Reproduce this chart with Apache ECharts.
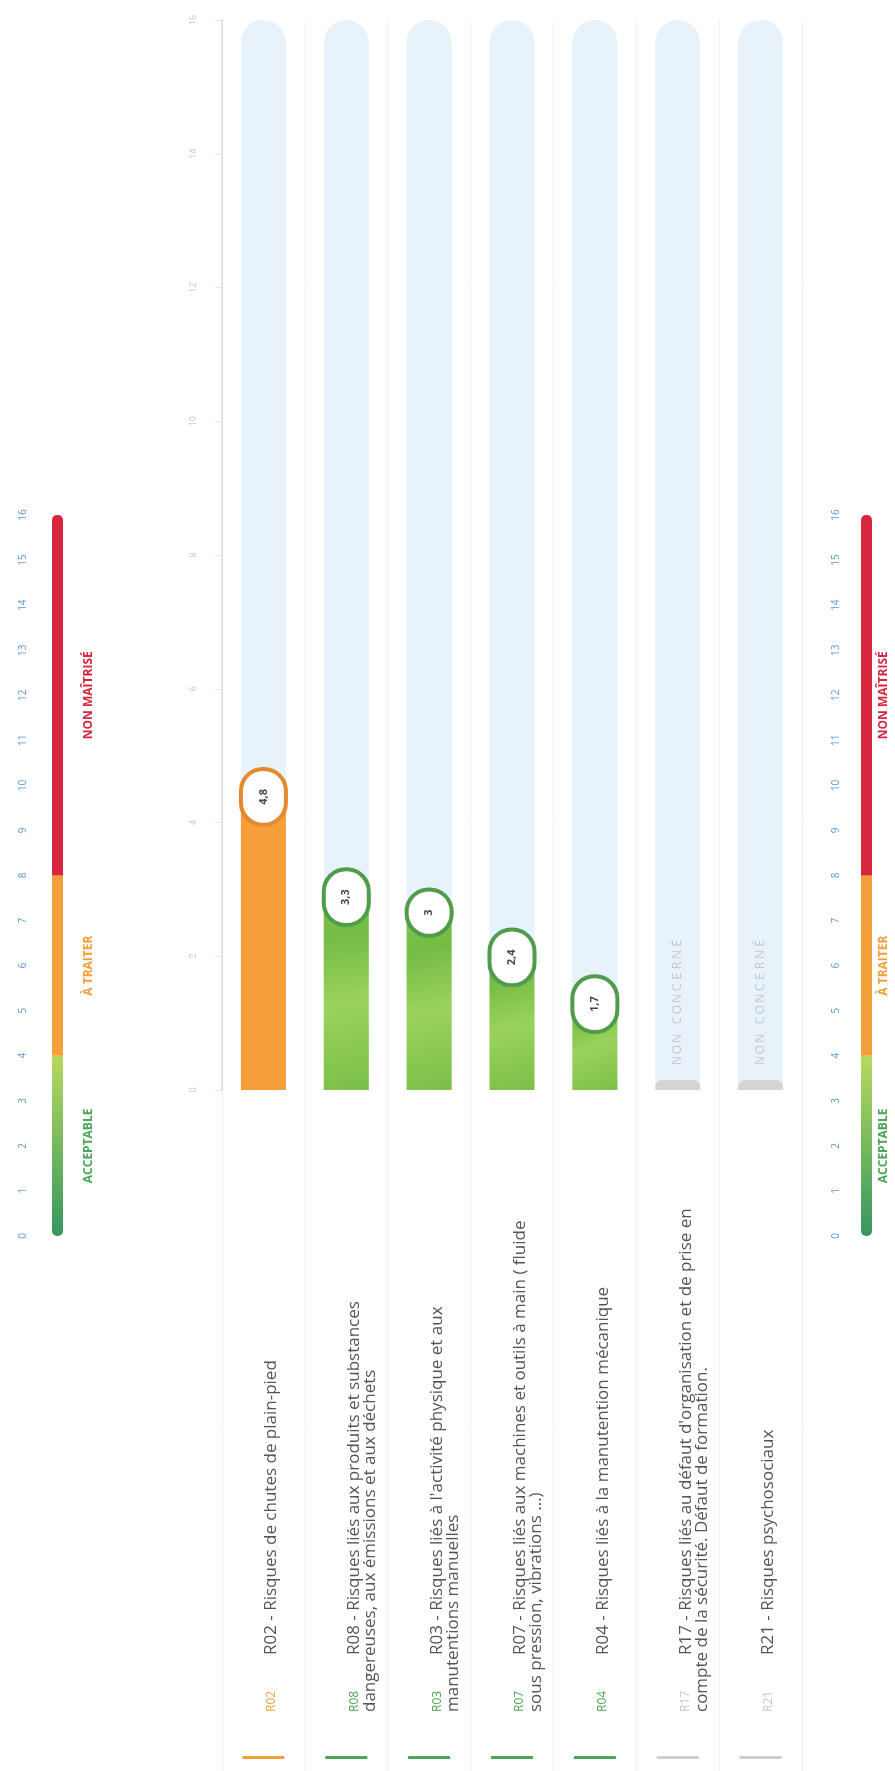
<!DOCTYPE html>
<html>
<head>
<meta charset="utf-8">
<script src="https://cdn.jsdelivr.net/npm/echarts@6/dist/echarts.min.js"></script>
<style>
html,body{margin:0;padding:0;background:#fff;overflow:hidden}
#c{width:895px;height:1771px}
</style>
</head>
<body>
<div id="c"></div>
<script>
// ---- data ----
const categories = ['R02', 'R08', 'R03', 'R07', 'R04', 'R17', 'R21'];
const descriptions = [
  'R02 - Risques de chutes de plain-pied',
  'R08 - Risques liés aux produits et substances\ndangereuses, aux émissions et aux déchets',
  "R03 - Risques liés à l'activité physique et aux\nmanutentions manuelles",
  'R07 - Risques liés aux machines et outils à main ( fluide\nsous pression, vibrations ...)',
  'R04 - Risques liés à la manutention mécanique',
  "R17 - Risques liés au défaut d'organisation et de prise en\ncompte de la sécurité. Défaut de formation.",
  'R21 - Risques psychosociaux'
];
const scores = [4.8, 3.3, 3, 2.4, 1.7, 0, 0];
const concerned = [true, true, true, true, true, false, false];
const scaleMax = 16;
const bandNames = ['ACCEPTABLE', 'À TRAITER', 'NON MAÎTRISÉ'];
const bandUpper = [4, 8, 16];
const notConcernedText = 'NON CONCERNÉ';

// ---- styles ----
const FONT = 'Open Sans';
const C_GREEN = '#4aa757', C_ORANGE = '#f2a03a', C_RED = '#d7263d', C_GRAY = '#cfcfcf';
function statusOf(i) {
  if (!concerned[i]) return 'n';
  const v = scores[i];
  return v < bandUpper[0] ? 'g' : (v < bandUpper[1] ? 'o' : 'r');
}
const statusColor = { g: C_GREEN, o: C_ORANGE, r: C_RED, n: C_GRAY };
const greenFill = new echarts.graphic.LinearGradient(0, 0, 1, 1, [
  { offset: 0, color: '#86c64c' }, { offset: 0.3, color: '#74bb44' },
  { offset: 0.6, color: '#9ad35b' }, { offset: 1, color: '#7bbf48' }
]);
const fills = { g: greenFill, o: '#f59e3a', r: '#d7263d', n: '#d4d4d4' };
const rings = { g: '#4f9d4b', o: '#e48a2c', r: '#b51d30' };

const PILL_FONT = 11, PILL_PADH = 18, PILL_BORDER = 4;
const measureCtx = document.createElement('canvas').getContext('2d');
measureCtx.font = 'bold ' + PILL_FONT + 'px "' + FONT + '"';

// letter-spaced "NON CONCERNÉ"
const ncRich = {
  l: { width: 11, align: 'center', fontSize: 12, color: '#c6c6c6', fontFamily: FONT },
  s: { width: 7, fontSize: 12, fontFamily: FONT }
};
const ncLabel = notConcernedText.split('').map(ch => ch === ' ' ? '{s| }' : '{l|' + ch + '}').join('');

const mainData = scores.map((v, i) => {
  const s = statusOf(i);
  if (s === 'n') {
    return {
      value: v,
      itemStyle: { color: fills.n, borderRadius: [7, 7, 0, 0] },
      label: {
        show: true, position: 'top', distance: 14, rotate: 90,
        align: 'left', verticalAlign: 'middle', formatter: ncLabel, rich: ncRich,
        backgroundColor: 'transparent', borderWidth: 0, padding: 0
      }
    };
  }
  const txt = String(v).replace('.', ',');
  const half = measureCtx.measureText(txt).width / 2 + PILL_PADH + PILL_BORDER / 2;
  return {
    value: v,
    itemStyle: { color: fills[s], borderRadius: [23, 23, 0, 0] },
    label: {
      show: true, position: ['50%', half], rotate: 90,
      align: 'center', verticalAlign: 'middle',
      formatter: txt,
      backgroundColor: '#ffffff', borderColor: rings[s], borderWidth: PILL_BORDER,
      borderRadius: 20, padding: [14, PILL_PADH], lineHeight: 13,
      fontSize: PILL_FONT, fontWeight: 'bold', color: '#4a4a4a', fontFamily: FONT
    }
  };
});

const labelRich = {
  d: { fontSize: 17, lineHeight: 16, color: '#555555', fontFamily: FONT },
  cg: { width: 57, fontSize: 12, lineHeight: 16, color: C_GREEN, fontFamily: FONT },
  co: { width: 57, fontSize: 12, lineHeight: 16, color: C_ORANGE, fontFamily: FONT },
  cr: { width: 57, fontSize: 12, lineHeight: 16, color: C_RED, fontFamily: FONT },
  cn: { width: 57, fontSize: 12, lineHeight: 16, color: '#c8c8c8', fontFamily: FONT }
};
const dashRich = {};
['g', 'o', 'r', 'n'].forEach(k => {
  dashRich[k] = { width: 42, height: 3, lineHeight: 3, fontSize: 1, backgroundColor: statusColor[k] };
});

function legendSeries(xi, yi, dist) {
  let prev = 0;
  return bandUpper.map((up, k) => {
    const val = up - prev; prev = up;
    const colors = [
      new echarts.graphic.LinearGradient(0, 0, 0, 1, [
        { offset: 0, color: '#b8d95e' }, { offset: 1, color: '#35975f' }]),
      C_ORANGE, C_RED
    ];
    const txtColors = [C_GREEN, C_ORANGE, C_RED];
    const radius = k === 0 ? [0, 0, 5, 5] : (k === bandUpper.length - 1 ? [5, 5, 0, 0] : 0);
    return {
      type: 'bar', xAxisIndex: xi, yAxisIndex: yi, stack: 'scale' + xi,
      barWidth: 11, data: [val], silent: true,
      itemStyle: { color: colors[k], borderRadius: radius },
      label: {
        show: true, position: 'right', distance: dist, rotate: 90,
        align: 'center', verticalAlign: 'top', formatter: bandNames[k],
        color: txtColors[k], fontSize: 12, fontWeight: 'bold', fontFamily: FONT
      }
    };
  });
}

const legendY = (gi, margin) => ({
  type: 'value', gridIndex: gi, min: 0, max: scaleMax, interval: 1,
  axisLine: { show: false }, axisTick: { show: false }, splitLine: { show: false },
  axisLabel: { rotate: 90, margin: margin, align: 'center', verticalAlign: 'bottom',
    color: '#5b9bd5', fontSize: 10, fontFamily: FONT }
});
const legendX = (gi) => ({
  type: 'category', gridIndex: gi, data: ['échelle'],
  axisLine: { show: false }, axisTick: { show: false }, axisLabel: { show: false }, splitLine: { show: false }
});

const option = {
  backgroundColor: '#ffffff',
  animation: false,
  grid: [
    { left: 222, right: 93, top: 20, bottom: 681 },
    { left: 222, right: 93, top: 1090, bottom: 0 },
    { left: 52, width: 11, top: 515, bottom: 535 },
    { left: 861, width: 11, top: 515, bottom: 535 }
  ],
  xAxis: [
    { type: 'category', gridIndex: 0, data: categories,
      axisLine: { show: false }, axisTick: { show: false }, axisLabel: { show: false },
      splitLine: { show: true, interval: 0, lineStyle: { color: '#eef1f5', width: 1 } } },
    { type: 'category', gridIndex: 1, data: categories, position: 'bottom',
      axisLine: { show: false }, axisTick: { show: false },
      splitLine: { show: true, interval: 0, lineStyle: { color: '#eef1f5', width: 1 } },
      axisLabel: {
        interval: 0, inside: true, margin: 59, rotate: 90,
        align: 'left', verticalAlign: 'top', rich: labelRich,
        formatter: (v, i) => {
          const lines = descriptions[i].split('\n');
          return '{c' + statusOf(i) + '|' + categories[i] + '}' +
            lines.map(l => '{d|' + l + '}').join('\n');
        }
      } },
    { type: 'category', gridIndex: 1, data: categories, position: 'bottom',
      axisLine: { show: false }, axisTick: { show: false }, splitLine: { show: false },
      axisLabel: { interval: 0, inside: true, margin: 12, rich: dashRich,
        formatter: (v, i) => '{' + statusOf(i) + '| }' } },
    legendX(2),
    legendX(3)
  ],
  yAxis: [
    { type: 'value', gridIndex: 0, min: 0, max: scaleMax, interval: 2,
      axisLine: { show: true, lineStyle: { color: '#d3dbe5', width: 1.5 } },
      axisTick: { show: true, length: 7, lineStyle: { color: '#e3e7ec' } },
      splitLine: { show: false },
      axisLabel: { rotate: 90, margin: 24, align: 'center', verticalAlign: 'bottom',
        color: '#c4c8ce', fontSize: 9, fontFamily: FONT } },
    { type: 'value', gridIndex: 1, show: false, min: 0, max: 1 },
    legendY(2, 24),
    legendY(3, 20)
  ],
  series: [
    {
      type: 'bar', xAxisIndex: 0, yAxisIndex: 0, barWidth: 45, barMinHeight: 10,
      showBackground: true,
      backgroundStyle: { color: '#e8f2fb', borderRadius: [23, 23, 0, 0] },
      data: mainData
    },
    ...legendSeries(3, 2, 20),
    ...legendSeries(4, 3, 6)
  ]
};

const chart = echarts.init(document.getElementById('c'), null, { renderer: 'canvas' });
chart.setOption(option);
</script>
</body>
</html>
